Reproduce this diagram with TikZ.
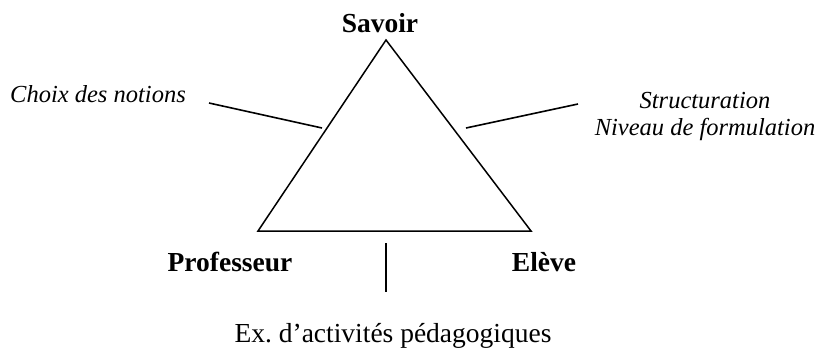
\documentclass[tikz,border=0pt]{standalone}
\usepackage{fontspec}
\setmainfont{Liberation Serif}
\begin{document}
\begin{tikzpicture}[x=1pt,y=-1pt,
  pole/.style={font=\fontsize{27.5}{30}\selectfont\bfseries, anchor=base, inner sep=0pt},
  note/.style={font=\fontsize{24.5}{29}\selectfont\itshape, anchor=base, inner sep=0pt, align=center},
  plain/.style={font=\fontsize{27.5}{30}\selectfont, anchor=base, inner sep=0pt},
  edge/.style={line width=1.5pt, line join=miter},
  tick/.style={line width=1.6pt}]
\useasboundingbox (0,0) rectangle (818,348);
% triangle corners
\coordinate (top) at (386,40);
\coordinate (bl) at (258,231);
\coordinate (br) at (531,231);
\draw[edge] (top) -- (bl) -- (br) -- cycle;
% labels
\node[pole] (savoir) at (380,32) {Savoir};
\node[pole] (prof) at (230,271) {Professeur};
\node[pole] (eleve) at (544,271) {Elève};
\node[note] (choix) at (98,102) {Choix des notions};
\node[note] (struct) at (705,108) {Structuration};
\node[note] (niveau) at (705,135) {Niveau de formulation};
\node[plain] (ex) at (393,342) {Ex.\ d’activités pédagogiques};
% tick lines
\coordinate (l1) at (209,103);
\coordinate (l2) at (322,128);
\coordinate (r1) at (466,128);
\coordinate (r2) at (578,104);
\coordinate (v1) at (386,243);
\coordinate (v2) at (386,292);
\draw[tick] (l1) -- (l2);
\draw[tick] (r1) -- (r2);
\draw[tick] (v1) -- (v2);
\end{tikzpicture}
\end{document}
